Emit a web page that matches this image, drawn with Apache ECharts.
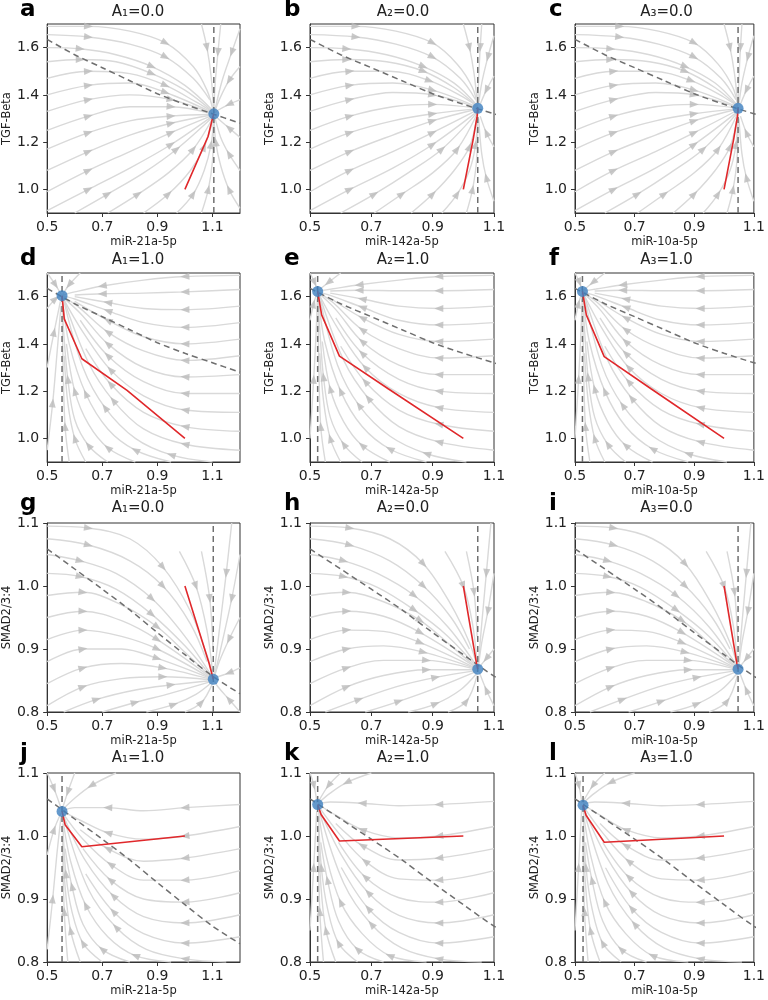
<!DOCTYPE html>
<html>
<head>
<meta charset="utf-8">
<script src="https://cdn.jsdelivr.net/npm/echarts@6/dist/echarts.min.js"></script>
<style>
  html, body { margin: 0; padding: 0; background: #fff; }
  #chart { width: 768px; height: 1000px; }
</style>
</head>
<body>
<div id="chart"></div>
<script>
// ---- panel text ----
const letters = ['a', 'b', 'c', 'd', 'e', 'f', 'g', 'h', 'i', 'j', 'k', 'l'];
const titles = ['A₁=0.0', 'A₂=0.0', 'A₃=0.0', 'A₁=1.0', 'A₂=1.0', 'A₃=1.0',
                'A₁=0.0', 'A₂=0.0', 'A₃=0.0', 'A₁=1.0', 'A₂=1.0', 'A₃=1.0'];
const xNames = ['miR-21a-5p', 'miR-142a-5p', 'miR-10a-5p'];
const yNames = ['TGF-Beta', 'TGF-Beta', 'SMAD2/3:4', 'SMAD2/3:4'];

// ---- axes ----
const xMax = [1.2, 1.1, 1.1];
const xTicks = [0.5, 0.7, 0.9, 1.1];
const yRanges = [[0.9, 1.7], [0.9, 1.7], [0.8, 1.1], [0.8, 1.1]];
const yTicksTGF = [1.0, 1.2, 1.4, 1.6];
const yTicksSMAD = [0.8, 0.9, 1.0, 1.1];

// ---- fixed points and trajectories (one per panel) ----
const fixedPoints = [
  [1.105, 1.32], [1.047, 1.343], [1.047, 1.343],
  [0.554, 1.604], [0.525, 1.622], [0.525, 1.622],
  [1.103, 0.852], [1.047, 0.868], [1.047, 0.868],
  [0.554, 1.039], [0.525, 1.05], [0.527, 1.049]
];
const trajectories = [
  [[1.0, 1.0], [1.084, 1.224], [1.1, 1.30], [1.105, 1.32]],
  [[1.0, 1.0], [1.032, 1.211], [1.045, 1.31], [1.047, 1.343]],
  [[1.0, 1.0], [1.032, 1.211], [1.045, 1.31], [1.047, 1.343]],
  [[1.0, 1.0], [0.79, 1.203], [0.626, 1.337], [0.562, 1.506], [0.554, 1.604]],
  [[1.0, 1.0], [0.755, 1.21], [0.596, 1.348], [0.538, 1.523], [0.525, 1.622]],
  [[1.0, 1.0], [0.755, 1.21], [0.598, 1.346], [0.538, 1.523], [0.525, 1.622]],
  [[1.0, 1.0], [1.088, 0.877], [1.103, 0.852]],
  [[1.0, 1.0], [1.043, 0.877], [1.047, 0.868]],
  [[1.0, 1.0], [1.043, 0.877], [1.047, 0.868]],
  [[1.0, 1.0], [0.626, 0.983], [0.565, 1.018], [0.554, 1.039]],
  [[1.0, 1.0], [0.596, 0.992], [0.536, 1.034], [0.525, 1.05]],
  [[1.0, 1.0], [0.598, 0.99], [0.537, 1.033], [0.527, 1.049]]
];

// ---- sloped nullclines ----
const nullTGF = [[0.5, 1.635], [0.6, 1.57], [0.7, 1.515], [0.8, 1.46], [0.9, 1.405],
                 [1.0, 1.36], [1.1, 1.32], [1.2, 1.28]];
const nullSMAD = [[0.5, 1.059], [0.6, 1.027], [0.7, 0.995], [0.8, 0.962], [0.9, 0.926],
                  [1.0, 0.891], [1.1, 0.857], [1.2, 0.829]];

// ---- streamlines (forward direction) ----
const streamA = [
  [[0.5,1.69],[0.65,1.69],[0.8,1.67],[0.93,1.62],[1.03,1.52],[1.08,1.42],[1.103,1.33]],
  [[0.5,1.655],[0.65,1.645],[0.8,1.615],[0.93,1.56],[1.03,1.47],[1.09,1.38]],
  [[0.5,1.6],[0.62,1.595],[0.75,1.57],[0.88,1.52],[1.0,1.44],[1.1,1.335]],
  [[0.5,1.54],[0.62,1.55],[0.75,1.54],[0.88,1.49],[1.0,1.42],[1.1,1.33]],
  [[0.5,1.47],[0.65,1.5],[0.8,1.49],[0.93,1.44],[1.04,1.37],[1.1,1.328]],
  [[0.5,1.4],[0.65,1.44],[0.8,1.45],[0.93,1.41],[1.1,1.325]],
  [[0.5,1.33],[0.65,1.38],[0.8,1.4],[0.95,1.38],[1.1,1.322]],
  [[0.5,1.25],[0.65,1.31],[0.8,1.35],[0.95,1.35],[1.1,1.32]],
  [[0.5,1.17],[0.65,1.24],[0.8,1.29],[0.95,1.31],[1.1,1.318]],
  [[0.5,1.08],[0.65,1.16],[0.8,1.23],[0.95,1.28],[1.1,1.316]],
  [[0.5,0.99],[0.65,1.08],[0.8,1.16],[0.95,1.24],[1.1,1.313]],
  [[0.5,0.91],[0.65,1.0],[0.8,1.09],[0.95,1.19],[1.1,1.31]],
  [[0.6,0.9],[0.72,0.98],[0.85,1.07],[0.97,1.17],[1.1,1.305]],
  [[0.72,0.9],[0.83,0.98],[0.94,1.07],[1.03,1.17],[1.1,1.3]],
  [[0.85,0.9],[0.94,0.98],[1.02,1.08],[1.07,1.18],[1.103,1.3]],
  [[0.97,0.9],[1.03,0.98],[1.07,1.08],[1.095,1.19],[1.104,1.3]],
  [[1.06,0.9],[1.085,1.0],[1.1,1.12],[1.105,1.3]],
  [[1.2,0.92],[1.16,1.0],[1.13,1.1],[1.112,1.2],[1.106,1.3]],
  [[1.2,1.08],[1.16,1.15],[1.13,1.22],[1.108,1.31]],
  [[1.2,1.22],[1.16,1.26],[1.12,1.3],[1.106,1.318]],
  [[1.2,1.38],[1.16,1.36],[1.12,1.335],[1.106,1.322]],
  [[1.2,1.52],[1.16,1.46],[1.125,1.38],[1.107,1.325]],
  [[1.2,1.68],[1.17,1.58],[1.135,1.46],[1.11,1.34]],
  [[1.13,1.7],[1.12,1.58],[1.11,1.45],[1.105,1.33]],
  [[1.06,1.7],[1.08,1.6],[1.095,1.48],[1.104,1.34]]
];
const streamB = [
  [[0.5,1.69],[0.65,1.69],[0.78,1.67],[0.9,1.62],[0.98,1.53],[1.03,1.43],[1.046,1.35]],
  [[0.5,1.655],[0.65,1.645],[0.78,1.615],[0.9,1.56],[0.99,1.47],[1.04,1.38]],
  [[0.5,1.6],[0.62,1.595],[0.75,1.57],[0.87,1.52],[0.97,1.45],[1.045,1.355]],
  [[0.5,1.54],[0.62,1.55],[0.75,1.54],[0.87,1.5],[0.97,1.43],[1.045,1.352]],
  [[0.5,1.47],[0.63,1.5],[0.76,1.5],[0.89,1.46],[1.0,1.39],[1.046,1.35]],
  [[0.5,1.4],[0.63,1.44],[0.77,1.45],[0.9,1.42],[1.046,1.348]],
  [[0.5,1.33],[0.63,1.38],[0.77,1.41],[0.9,1.4],[1.046,1.346]],
  [[0.5,1.25],[0.63,1.31],[0.77,1.35],[0.9,1.36],[1.046,1.344]],
  [[0.5,1.17],[0.63,1.24],[0.77,1.29],[0.9,1.32],[1.046,1.342]],
  [[0.5,1.08],[0.63,1.16],[0.77,1.23],[0.9,1.29],[1.046,1.34]],
  [[0.5,0.99],[0.63,1.08],[0.77,1.16],[0.9,1.24],[1.046,1.336]],
  [[0.5,0.91],[0.63,1.0],[0.77,1.09],[0.9,1.19],[1.046,1.33]],
  [[0.6,0.9],[0.71,0.98],[0.82,1.07],[0.93,1.17],[1.045,1.325]],
  [[0.71,0.9],[0.8,0.98],[0.9,1.07],[0.98,1.17],[1.045,1.32]],
  [[0.83,0.9],[0.9,0.98],[0.97,1.08],[1.02,1.18],[1.046,1.32]],
  [[0.93,0.9],[0.98,0.98],[1.02,1.08],[1.04,1.19],[1.047,1.32]],
  [[1.01,0.9],[1.03,1.0],[1.043,1.12],[1.047,1.3]],
  [[1.1,0.95],[1.075,1.05],[1.06,1.15],[1.05,1.3]],
  [[1.1,1.18],[1.075,1.24],[1.055,1.31]],
  [[1.1,1.48],[1.075,1.42],[1.055,1.36]],
  [[1.1,1.65],[1.08,1.56],[1.06,1.45],[1.05,1.36]],
  [[1.06,1.7],[1.055,1.6],[1.05,1.47],[1.047,1.36]],
  [[1.0,1.7],[1.02,1.6],[1.035,1.49],[1.045,1.37]]
];
const streamD = [
  [[1.2,1.69],[1.0,1.685],[0.85,1.67],[0.7,1.645],[0.6,1.62],[0.556,1.606]],
  [[1.2,1.63],[1.0,1.62],[0.85,1.615],[0.7,1.612],[0.6,1.607]],
  [[1.2,1.56],[1.0,1.545],[0.85,1.55],[0.72,1.575],[0.6,1.6]],
  [[1.2,1.49],[1.0,1.47],[0.85,1.49],[0.72,1.54],[0.6,1.59],[0.556,1.603]],
  [[1.2,1.42],[1.0,1.4],[0.85,1.43],[0.72,1.5],[0.6,1.58]],
  [[1.2,1.35],[1.0,1.33],[0.85,1.37],[0.72,1.45],[0.61,1.56],[0.556,1.6]],
  [[1.2,1.27],[1.0,1.26],[0.85,1.3],[0.72,1.4],[0.62,1.53],[0.556,1.598]],
  [[1.2,1.19],[1.0,1.19],[0.85,1.24],[0.72,1.35],[0.62,1.5]],
  [[1.2,1.11],[1.0,1.12],[0.85,1.18],[0.73,1.29],[0.63,1.45],[0.557,1.595]],
  [[1.2,1.03],[1.0,1.05],[0.85,1.11],[0.73,1.23],[0.64,1.38]],
  [[1.2,0.95],[1.0,0.975],[0.85,1.04],[0.74,1.16],[0.65,1.32],[0.56,1.59]],
  [[1.1,0.9],[0.95,0.93],[0.82,1.0],[0.71,1.13],[0.63,1.3],[0.56,1.585]],
  [[0.95,0.9],[0.82,0.95],[0.72,1.04],[0.64,1.19],[0.58,1.4],[0.556,1.58]],
  [[0.82,0.9],[0.72,0.96],[0.65,1.06],[0.6,1.2],[0.57,1.4]],
  [[0.72,0.9],[0.65,0.97],[0.6,1.08],[0.575,1.25],[0.56,1.45],[0.555,1.575]],
  [[0.64,0.9],[0.6,1.0],[0.575,1.15],[0.562,1.35]],
  [[0.58,0.9],[0.565,1.05],[0.558,1.3],[0.555,1.55]],
  [[0.5,0.95],[0.52,1.15],[0.535,1.35],[0.55,1.56]],
  [[0.5,1.3],[0.525,1.45],[0.548,1.58]],
  [[0.5,1.55],[0.53,1.59],[0.552,1.603]],
  [[0.5,1.7],[0.53,1.65],[0.552,1.607]],
  [[0.62,1.7],[0.58,1.65],[0.556,1.608]]
];
const streamE = [
  [[1.1,1.69],[0.92,1.685],[0.79,1.67],[0.66,1.65],[0.57,1.632],[0.527,1.624]],
  [[1.1,1.63],[0.92,1.625],[0.79,1.625],[0.66,1.627],[0.566,1.624]],
  [[1.1,1.56],[0.92,1.55],[0.79,1.56],[0.67,1.59],[0.566,1.615]],
  [[1.1,1.49],[0.92,1.48],[0.79,1.5],[0.67,1.555],[0.566,1.605],[0.527,1.62]],
  [[1.1,1.42],[0.92,1.41],[0.79,1.44],[0.67,1.51],[0.57,1.59]],
  [[1.1,1.35],[0.92,1.34],[0.79,1.38],[0.67,1.46],[0.575,1.575],[0.527,1.618]],
  [[1.1,1.27],[0.92,1.27],[0.79,1.31],[0.67,1.41],[0.584,1.545],[0.527,1.616]],
  [[1.1,1.19],[0.92,1.2],[0.79,1.25],[0.67,1.36],[0.584,1.51]],
  [[1.1,1.11],[0.92,1.13],[0.79,1.19],[0.68,1.3],[0.593,1.46],[0.528,1.613]],
  [[1.1,1.03],[0.92,1.06],[0.79,1.12],[0.68,1.24],[0.6,1.39]],
  [[1.1,0.95],[0.92,0.985],[0.79,1.05],[0.69,1.17],[0.61,1.33],[0.53,1.61]],
  [[1.01,0.9],[0.88,0.935],[0.76,1.01],[0.66,1.14],[0.59,1.31],[0.53,1.605]],
  [[0.88,0.9],[0.76,0.955],[0.67,1.05],[0.6,1.2],[0.548,1.41],[0.527,1.6]],
  [[0.76,0.9],[0.67,0.97],[0.61,1.07],[0.566,1.21],[0.54,1.41]],
  [[0.67,0.9],[0.61,0.975],[0.566,1.09],[0.544,1.26],[0.532,1.46],[0.526,1.595]],
  [[0.6,0.9],[0.566,1.0],[0.544,1.16],[0.532,1.36]],
  [[0.55,0.9],[0.535,1.05],[0.529,1.3],[0.526,1.57]],
  [[0.5,1.0],[0.512,1.25],[0.52,1.45],[0.524,1.59]],
  [[0.5,1.5],[0.512,1.57],[0.523,1.615]],
  [[0.5,1.7],[0.515,1.66],[0.524,1.626]],
  [[0.6,1.7],[0.56,1.66],[0.528,1.627]]
];
const streamG = [
  [[0.5,1.095],[0.65,1.092],[0.8,1.075],[0.92,1.03],[1.02,0.96],[1.08,0.89],[1.102,0.856]],
  [[0.5,1.075],[0.65,1.065],[0.8,1.04],[0.92,1.0],[1.02,0.94],[1.08,0.88]],
  [[0.5,1.05],[0.62,1.04],[0.75,1.02],[0.88,0.98],[1.0,0.92],[1.1,0.855]],
  [[0.5,1.02],[0.62,1.015],[0.75,0.995],[0.88,0.955],[1.0,0.905],[1.1,0.854]],
  [[0.5,0.985],[0.63,0.99],[0.77,0.97],[0.9,0.935],[1.0,0.895],[1.1,0.853]],
  [[0.5,0.95],[0.63,0.96],[0.77,0.945],[0.9,0.915],[1.1,0.853]],
  [[0.5,0.915],[0.63,0.93],[0.77,0.92],[0.9,0.9],[1.1,0.852]],
  [[0.5,0.88],[0.63,0.9],[0.77,0.9],[0.9,0.885],[1.1,0.852]],
  [[0.5,0.845],[0.63,0.87],[0.77,0.877],[0.92,0.87],[1.1,0.851]],
  [[0.5,0.81],[0.63,0.84],[0.77,0.853],[0.92,0.856],[1.1,0.851]],
  [[0.56,0.8],[0.68,0.82],[0.82,0.835],[0.95,0.843],[1.1,0.85]],
  [[0.7,0.8],[0.82,0.815],[0.95,0.83],[1.1,0.849]],
  [[0.86,0.8],[0.96,0.812],[1.04,0.828],[1.1,0.848]],
  [[1.0,0.8],[1.06,0.815],[1.1,0.845]],
  [[1.2,0.8],[1.16,0.82],[1.12,0.84],[1.106,0.85]],
  [[1.2,0.87],[1.16,0.862],[1.12,0.856],[1.106,0.853]],
  [[1.2,0.95],[1.16,0.915],[1.125,0.88],[1.107,0.856]],
  [[1.2,1.05],[1.17,0.98],[1.135,0.91],[1.108,0.858]],
  [[1.17,1.1],[1.15,1.02],[1.125,0.93],[1.106,0.86]],
  [[0.98,1.055],[1.04,1.0],[1.08,0.93],[1.1,0.865]],
  [[1.06,1.055],[1.09,0.98],[1.102,0.9]]
];
const streamH = [
  [[0.5,1.095],[0.63,1.092],[0.76,1.075],[0.87,1.035],[0.96,0.97],[1.02,0.91],[1.046,0.872]],
  [[0.5,1.075],[0.63,1.065],[0.76,1.04],[0.87,1.0],[0.96,0.95],[1.02,0.9]],
  [[0.5,1.05],[0.61,1.04],[0.72,1.02],[0.84,0.985],[0.95,0.935],[1.046,0.871]],
  [[0.5,1.02],[0.61,1.015],[0.72,0.998],[0.84,0.962],[0.95,0.92],[1.046,0.87]],
  [[0.5,0.985],[0.62,0.99],[0.74,0.975],[0.86,0.945],[0.96,0.905],[1.046,0.869]],
  [[0.5,0.95],[0.62,0.96],[0.74,0.952],[0.86,0.926],[1.046,0.869]],
  [[0.5,0.915],[0.62,0.93],[0.74,0.928],[0.86,0.91],[1.046,0.868]],
  [[0.5,0.88],[0.62,0.9],[0.74,0.905],[0.87,0.895],[1.046,0.868]],
  [[0.5,0.845],[0.62,0.87],[0.74,0.882],[0.88,0.882],[1.046,0.867]],
  [[0.5,0.81],[0.62,0.84],[0.74,0.858],[0.88,0.867],[1.046,0.867]],
  [[0.55,0.8],[0.66,0.82],[0.78,0.84],[0.91,0.855],[1.046,0.866]],
  [[0.68,0.8],[0.79,0.817],[0.91,0.838],[1.045,0.865]],
  [[0.82,0.8],[0.91,0.813],[0.99,0.835],[1.045,0.862]],
  [[0.95,0.8],[1.01,0.817],[1.045,0.858]],
  [[1.1,0.81],[1.075,0.835],[1.052,0.863]],
  [[1.1,0.9],[1.075,0.885],[1.052,0.871]],
  [[1.1,1.02],[1.08,0.96],[1.06,0.91],[1.05,0.875]],
  [[1.09,1.1],[1.075,1.02],[1.06,0.94],[1.049,0.877]],
  [[0.94,1.055],[1.0,1.0],[1.03,0.94],[1.045,0.878]],
  [[1.01,1.055],[1.035,0.99],[1.045,0.92]]
];
const streamJ = [
  [[0.75,1.1],[0.66,1.08],[0.6,1.06],[0.556,1.042]],
  [[1.2,1.05],[1.0,1.045],[0.85,1.04],[0.72,1.045],[0.6,1.045],[0.556,1.04]],
  [[1.2,1.015],[1.0,1.0],[0.85,0.995],[0.72,1.005],[0.62,1.025],[0.556,1.039]],
  [[1.2,0.98],[1.0,0.965],[0.85,0.96],[0.72,0.98],[0.62,1.01]],
  [[1.2,0.945],[1.0,0.93],[0.85,0.93],[0.73,0.955],[0.63,0.995],[0.557,1.036]],
  [[1.2,0.91],[1.0,0.895],[0.85,0.9],[0.73,0.93],[0.63,0.98]],
  [[1.2,0.875],[1.0,0.862],[0.85,0.872],[0.74,0.905],[0.64,0.96],[0.558,1.033]],
  [[1.2,0.84],[1.0,0.83],[0.85,0.845],[0.74,0.88],[0.64,0.94]],
  [[1.15,0.8],[1.0,0.805],[0.86,0.82],[0.75,0.855],[0.65,0.915],[0.56,1.03]],
  [[0.95,0.8],[0.82,0.81],[0.72,0.84],[0.64,0.89],[0.585,0.96],[0.557,1.027]],
  [[0.8,0.8],[0.7,0.82],[0.63,0.86],[0.59,0.92],[0.565,0.98]],
  [[0.7,0.8],[0.63,0.83],[0.59,0.88],[0.568,0.94],[0.557,1.02]],
  [[0.62,0.8],[0.585,0.85],[0.565,0.92],[0.557,1.0]],
  [[0.575,0.8],[0.562,0.88],[0.556,1.0]],
  [[0.5,0.82],[0.52,0.9],[0.535,0.97],[0.55,1.03]],
  [[0.5,0.97],[0.525,1.01],[0.55,1.036]],
  [[0.5,1.1],[0.525,1.075],[0.552,1.042]],
  [[0.6,1.1],[0.575,1.07],[0.555,1.043]]
];
const streamK = [
  [[0.7,1.1],[0.62,1.085],[0.566,1.068],[0.527,1.052]],
  [[1.1,1.055],[0.92,1.05],[0.79,1.048],[0.67,1.052],[0.566,1.054],[0.527,1.051]],
  [[1.1,1.015],[0.92,1.0],[0.79,0.997],[0.67,1.01],[0.584,1.033],[0.527,1.05]],
  [[1.1,0.98],[0.92,0.965],[0.79,0.962],[0.67,0.985],[0.584,1.02]],
  [[1.1,0.945],[0.92,0.93],[0.79,0.932],[0.68,0.96],[0.593,1.005],[0.528,1.047]],
  [[1.1,0.91],[0.92,0.895],[0.79,0.902],[0.68,0.935],[0.593,0.99]],
  [[1.1,0.875],[0.92,0.862],[0.79,0.874],[0.69,0.91],[0.602,0.97],[0.529,1.044]],
  [[1.1,0.84],[0.92,0.83],[0.79,0.847],[0.69,0.885],[0.602,0.95]],
  [[1.06,0.8],[0.92,0.805],[0.8,0.822],[0.7,0.86],[0.61,0.925],[0.53,1.04]],
  [[0.88,0.8],[0.76,0.81],[0.67,0.845],[0.6,0.895],[0.552,0.97],[0.528,1.038]],
  [[0.74,0.8],[0.655,0.82],[0.593,0.865],[0.557,0.93],[0.535,0.99]],
  [[0.655,0.8],[0.593,0.83],[0.557,0.885],[0.537,0.95],[0.528,1.03]],
  [[0.584,0.8],[0.552,0.85],[0.535,0.925],[0.528,1.01]],
  [[0.544,0.8],[0.532,0.88],[0.527,1.0]],
  [[0.5,0.85],[0.512,0.95],[0.522,1.04]],
  [[0.5,1.1],[0.513,1.08],[0.523,1.053]],
  [[0.6,1.1],[0.56,1.08],[0.528,1.055]]
];
const panelStreams = [streamA, streamB, streamB, streamD, streamE, streamE,
                      streamG, streamH, streamH, streamJ, streamK, streamK];

// ---- layout ----
const colLeft = [46, 310, 575];
const colWidth = [194, 184, 183];
const rowTop = [24, 273, 523, 773];
const rowHeight = 189;
const titleX = [138, 403, 666.5];
const titleY = [12, 260, 508.5, 758.5];
const letterY = [10.5, 259.5, 504.5, 754.5];

const FONT = 'DejaVu Sans';
const fmt = v => Number(v).toFixed(1);

const chart = echarts.init(document.getElementById('chart'));
const grids = [], xAxes = [], yAxes = [], series = [], graphics = [];

for (let i = 0; i < 12; i++) {
  const r = Math.floor(i / 3), c = i % 3;
  const yr = yRanges[r];
  const yTicks = r < 2 ? yTicksTGF : yTicksSMAD;
  grids.push({
    left: colLeft[c], top: rowTop[r], width: colWidth[c], height: rowHeight,
    show: true, borderColor: '#333', borderWidth: 1, backgroundColor: '#fff'
  });
  xAxes.push({
    gridIndex: i, type: 'value', min: 0.5, max: xMax[c],
    name: xNames[c], nameLocation: 'middle', nameGap: 23,
    nameTextStyle: { fontFamily: FONT, fontSize: 11.5, color: '#222' },
    axisLine: { show: true, onZero: false, lineStyle: { color: '#333' } },
    axisTick: { show: true, customValues: xTicks, length: 4, lineStyle: { color: '#333' } },
    axisLabel: { customValues: xTicks, formatter: fmt, margin: 7,
                 fontFamily: FONT, fontSize: 14, color: '#222' },
    splitLine: { show: false }
  });
  yAxes.push({
    gridIndex: i, type: 'value', min: yr[0], max: yr[1],
    name: yNames[r], nameLocation: 'middle', nameGap: 34, nameRotate: 90,
    nameTextStyle: { fontFamily: FONT, fontSize: 11.5, color: '#222' },
    axisLine: { show: true, onZero: false, lineStyle: { color: '#333' } },
    axisTick: { show: true, customValues: yTicks, length: 4, lineStyle: { color: '#333' } },
    axisLabel: { customValues: yTicks, formatter: fmt, margin: 8,
                 fontFamily: FONT, fontSize: 14, color: '#222' },
    splitLine: { show: false }
  });

  // streamlines
  panelStreams[i].forEach(line => {
    series.push({
      type: 'line', xAxisIndex: i, yAxisIndex: i, data: line,
      smooth: 0.35, symbol: 'none', silent: true, z: 1, clip: true,
      lineStyle: { color: '#d9d9d9', width: 1.4 }
    });
  });

  // nullclines
  series.push({
    type: 'line', xAxisIndex: i, yAxisIndex: i, data: r < 2 ? nullTGF : nullSMAD,
    smooth: 0.3, symbol: 'none', silent: true, z: 3, clip: true,
    lineStyle: { color: '#6f6f6f', width: 1.5, type: [6, 4] }
  });
  const fp = fixedPoints[i];
  series.push({
    type: 'line', xAxisIndex: i, yAxisIndex: i, data: [[fp[0], yr[0]], [fp[0], yr[1]]],
    symbol: 'none', silent: true, z: 3,
    lineStyle: { color: '#6f6f6f', width: 1.5, type: [6, 4] }
  });

  // trajectory
  series.push({
    type: 'line', xAxisIndex: i, yAxisIndex: i, data: trajectories[i],
    symbol: 'none', silent: true, z: 4,
    lineStyle: { color: '#e0282b', width: 1.6 }
  });

  // fixed point
  series.push({
    type: 'scatter', xAxisIndex: i, yAxisIndex: i, data: [fp],
    symbol: 'circle', symbolSize: 11, silent: true, z: 5,
    itemStyle: { color: '#3d7fbf' }
  });

  graphics.push({
    type: 'text', x: colLeft[c] - 26, y: letterY[r], z: 10,
    style: { text: letters[i], font: 'bold 23px "DejaVu Sans"', fill: '#000',
             textAlign: 'left', textVerticalAlign: 'middle' }
  });
  graphics.push({
    type: 'text', x: titleX[c], y: titleY[r], z: 10,
    style: { text: titles[i], font: '15px "DejaVu Sans"', fill: '#222',
             textAlign: 'center', textVerticalAlign: 'middle' }
  });
}

chart.setOption({
  animation: false,
  grid: grids, xAxis: xAxes, yAxis: yAxes,
  graphic: graphics, series: series
});

// arrowheads along the streamlines, oriented in pixel space
for (let i = 0; i < 12; i++) {
  const arrows = [];
  panelStreams[i].forEach(line => {
    const n = line.length;
    const idx = n >= 5 ? [1, 3] : [1];
    idx.forEach(k => {
      const a = chart.convertToPixel({ gridIndex: i }, line[k - 1]);
      const b = chart.convertToPixel({ gridIndex: i }, line[k + 1]);
      const ang = Math.atan2(-(b[1] - a[1]), b[0] - a[0]) * 180 / Math.PI;
      arrows.push({ value: line[k], symbolRotate: ang - 90 });
    });
  });
  series.push({
    type: 'scatter', xAxisIndex: i, yAxisIndex: i, data: arrows,
    symbol: 'triangle', symbolSize: [7, 9], silent: true, z: 2,
    itemStyle: { color: '#bcbcbc' }
  });
}
chart.setOption({ series: series });
</script>
</body>
</html>
